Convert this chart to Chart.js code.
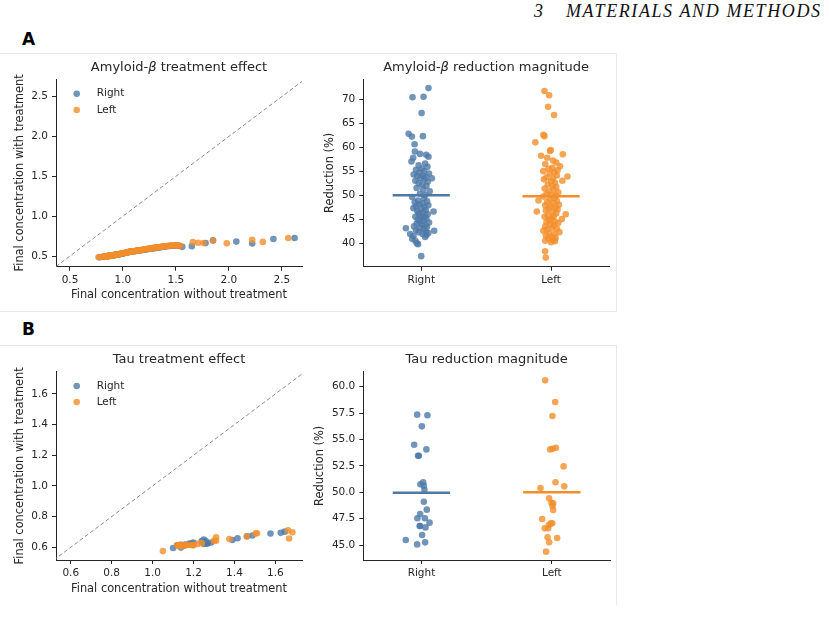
<!DOCTYPE html>
<html><head><meta charset="utf-8">
<script src="https://cdn.jsdelivr.net/npm/chart.js@4.4.0/dist/chart.umd.min.js"></script>
<style>
html,body{margin:0;padding:0;background:#fff;}
body{width:829px;height:626px;position:relative;overflow:hidden;font-family:"DejaVu Sans",sans-serif;color:#262626;}
canvas{position:absolute;}
.frame{position:absolute;border-style:solid;border-color:#e9e9e9;border-width:0;}
.plab{position:absolute;font:bold 17px "DejaVu Sans";color:#000;}
.hdr{position:absolute;top:1px;font:italic 18px "Liberation Serif",serif;color:#111;white-space:pre;}
</style></head><body>
<div class="hdr" style="left:534px;">3</div>
<div class="hdr" style="left:566px;letter-spacing:1.6px;">MATERIALS AND METHODS</div>
<div class="frame" style="left:-1px;top:53px;width:617px;height:257px;border-top-width:1px;border-right-width:1px;border-bottom-width:1px;"></div>
<div class="frame" style="left:-1px;top:345px;width:617px;height:259px;border-top-width:1px;border-right-width:1px;"></div>
<div class="plab" style="left:22px;top:29px;">A</div>
<div class="plab" style="left:22px;top:319px;">B</div>
<canvas id="aScatter" width="310" height="258" style="left:0;top:52px"></canvas>
<canvas id="aStrip" width="310" height="258" style="left:310px;top:52px"></canvas>
<canvas id="bScatter" width="310" height="260" style="left:0;top:345px"></canvas>
<canvas id="bStrip" width="310" height="260" style="left:310px;top:345px"></canvas>
<script>
// ---------- DATA ----------
const groups = ['Right', 'Left'];

// Amyloid-beta: reduction (%) per region, with strip jitter offsets
const amyRightRed = [72.3,70.5,70.4,67.1,62.8,62.3,62.2,60.6,59.1,58.6,
  58.4,58.0,57.8,57.0,56.6,56.2,55.9,55.5,55.3,55.0,
  54.7,54.5,54.3,54.1,54.0,53.8,53.6,53.5,53.3,53.0,
  52.8,52.5,52.2,51.9,51.5,51.2,50.8,50.3,50.0,49.6,
  49.3,48.9,48.7,48.5,48.3,48.1,47.9,47.7,47.5,47.3,
  47.1,46.9,46.7,46.6,46.4,46.2,46.0,45.8,45.6,45.5,
  45.3,45.1,44.9,44.7,44.5,44.3,44.1,43.9,43.7,43.5,
  43.4,43.2,43.1,42.9,42.7,42.6,42.5,42.3,42.1,41.9,
  41.9,41.7,41.5,41.3,40.9,40.5,40.0,39.8,37.3];
const amyRightJit = [0.056,0.018,-0.067,0.003,-0.097,0.013,-0.072,-0.051,-0.049,-0.010,
  0.038,0.056,-0.062,-0.075,0.030,-0.020,0.048,0.005,-0.040,0.022,
  -0.015,0.060,-0.058,0.012,-0.030,0.035,-0.005,0.082,0.025,-0.045,
  0.050,-0.020,0.008,0.040,-0.035,0.015,0.065,-0.010,0.030,-0.070,
  0.020,-0.025,0.045,-0.050,0.010,-0.015,0.055,-0.040,0.025,-0.060,
  0.000,0.035,-0.030,0.095,0.015,-0.020,0.050,-0.008,0.028,-0.045,
  0.010,0.040,-0.025,0.018,-0.012,0.060,-0.035,0.005,0.030,-0.055,
  0.045,-0.010,-0.118,0.020,-0.040,0.100,0.035,-0.020,0.055,-0.085,
  0.010,0.040,-0.060,0.030,-0.070,-0.045,-0.033,-0.025,0.000];
const amyLeftRed = [71.7,70.8,68.4,66.7,62.6,62.3,61.0,59.4,59.2,58.5,
  58.2,57.8,57.2,56.8,56.5,56.0,55.7,55.5,55.2,55.0,
  54.8,54.5,54.1,53.9,53.7,53.5,53.3,53.0,52.9,52.6,
  52.2,51.9,51.7,51.4,51.2,50.8,50.6,50.3,50.0,49.9,
  49.7,49.4,49.1,48.9,48.8,48.6,48.3,48.0,47.9,47.7,
  47.4,47.2,47.0,46.8,46.6,46.5,46.2,46.0,45.8,45.6,
  45.5,45.2,45.0,44.8,44.5,44.4,44.2,44.0,43.7,43.5,
  43.2,43.0,42.9,42.6,42.3,42.1,41.9,41.6,41.3,41.1,
  41.0,40.7,40.5,40.4,40.2,38.3,37.0];
const amyLeftJit = [-0.051,-0.015,-0.023,0.023,-0.059,-0.051,-0.121,-0.003,-0.008,0.090,
  -0.077,-0.030,0.015,0.040,-0.045,0.069,0.010,-0.020,0.050,-0.060,
  0.025,-0.010,0.045,0.126,-0.035,0.015,-0.055,0.087,0.000,0.030,
  -0.025,0.010,0.040,-0.050,0.020,-0.015,0.055,-0.035,0.005,0.035,
  -0.060,0.025,-0.010,-0.097,0.045,-0.030,0.015,0.060,-0.045,0.000,
  0.035,-0.020,0.050,-0.040,-0.110,0.010,0.040,0.113,-0.025,0.020,
  -0.050,0.005,0.082,-0.015,0.030,-0.035,0.055,-0.005,0.020,-0.045,
  0.010,0.045,-0.030,-0.060,0.064,-0.015,0.025,-0.040,0.005,0.035,
  -0.020,0.015,-0.045,0.030,0.000,-0.046,-0.041];
const amyMeans = [50.0, 49.8];

// Amyloid-beta: final concentration without / with treatment
const amyRightWithout = [2.62,2.42,2.22,2.07,1.78,1.85,1.65,1.56,1.53,1.52,
  1.51,1.50,1.49,1.46,1.44,1.42,1.41,1.39,1.38,1.36,
  1.34,1.33,1.32,1.31,1.305,1.30,1.29,1.285,1.275,1.26,
  1.25,1.235,1.22,1.205,1.19,1.175,1.16,1.14,1.13,1.115,
  1.10,1.09,1.08,1.075,1.07,1.06,1.055,1.05,1.04,1.035,
  1.01,1.00,0.995,0.99,0.985,0.98,0.97,0.965,0.96,0.955,
  0.95,0.945,0.94,0.93,0.925,0.92,0.915,0.91,0.905,0.90,
  0.895,0.89,0.888,0.884,0.88,0.877,0.875,0.87,0.865,0.86,
  0.858,0.855,0.85,0.845,0.838,0.83,0.82,0.815,0.78];
const amyRightWith = [0.726,0.714,0.657,0.681,0.662,0.697,0.624,0.615,0.626,0.629,
  0.628,0.630,0.629,0.628,0.625,0.622,0.622,0.619,0.617,0.612,
  0.607,0.605,0.603,0.601,0.600,0.601,0.599,0.598,0.595,0.592,
  0.590,0.587,0.583,0.580,0.577,0.573,0.571,0.567,0.565,0.562,
  0.558,0.557,0.554,0.554,0.553,0.550,0.550,0.549,0.546,0.545,
  0.534,0.531,0.530,0.529,0.528,0.527,0.524,0.523,0.522,0.520,
  0.520,0.519,0.518,0.514,0.513,0.512,0.511,0.511,0.510,0.509,
  0.507,0.506,0.505,0.505,0.504,0.503,0.503,0.502,0.501,0.500,
  0.498,0.498,0.497,0.496,0.495,0.494,0.492,0.491,0.486];
const amyLeftWithout = [2.56,2.32,2.22,1.98,1.85,1.76,1.71,1.66,1.54,1.52,
  1.51,1.50,1.48,1.46,1.45,1.43,1.41,1.40,1.385,1.37,
  1.36,1.345,1.33,1.32,1.31,1.30,1.285,1.27,1.265,1.25,
  1.235,1.22,1.21,1.195,1.185,1.17,1.16,1.145,1.135,1.13,
  1.12,1.11,1.10,1.09,1.085,1.08,1.07,1.06,1.055,1.05,
  1.04,1.03,1.02,1.01,1.00,0.995,0.985,0.975,0.97,0.96,
  0.955,0.948,0.94,0.935,0.925,0.922,0.918,0.91,0.905,0.90,
  0.89,0.886,0.884,0.877,0.87,0.865,0.86,0.853,0.845,0.842,
  0.84,0.835,0.83,0.828,0.825,0.79,0.77];
const amyLeftWith = [0.725,0.677,0.702,0.659,0.692,0.664,0.667,0.674,0.628,0.631,
  0.631,0.633,0.633,0.631,0.631,0.629,0.625,0.623,0.620,0.617,
  0.615,0.612,0.610,0.609,0.607,0.605,0.600,0.597,0.596,0.593,
  0.590,0.587,0.584,0.581,0.578,0.576,0.573,0.569,0.568,0.566,
  0.563,0.562,0.560,0.557,0.556,0.555,0.553,0.551,0.550,0.549,
  0.547,0.544,0.541,0.537,0.534,0.532,0.530,0.527,0.526,0.522,
  0.520,0.520,0.517,0.516,0.513,0.513,0.512,0.510,0.510,0.509,
  0.506,0.505,0.505,0.503,0.502,0.501,0.500,0.498,0.496,0.496,
  0.496,0.495,0.494,0.493,0.493,0.487,0.485];

// Tau
const tauRightRed = [57.35,57.3,56.24,54.5,54.06,53.46,53.46,50.94,50.75,50.62,50.24,49.1,
  48.35,47.94,47.53,47.53,47.12,46.8,46.8,46.67,45.95,45.47,45.25,45.06];
const tauRightJit = [-0.033,0.046,0.003,-0.056,0.038,-0.026,-0.020,0.013,-0.008,0.018,0.023,0.018,
  0.041,-0.010,-0.031,0.026,0.062,-0.013,-0.011,0.031,0.005,-0.120,0.028,-0.033];
const tauLeftRed = [60.6,58.55,57.22,54.22,54.12,54.06,52.45,50.94,50.56,50.4,49.42,49.01,48.95,
  48.7,48.32,47.46,47.05,47.05,46.9,46.58,46.58,45.73,45.66,45.25,44.37];
const tauLeftJit = [-0.051,0.026,0.005,0.031,0.005,-0.013,0.090,0.028,0.095,-0.087,-0.021,-0.003,0.010,
  0.005,0.010,-0.074,-0.008,0.003,-0.023,-0.054,-0.028,-0.033,0.041,-0.021,-0.044];
const tauMeans = [49.95, 50.0];
const tauRightWithout = [1.646,1.626,1.576,1.488,1.462,1.415,1.39,1.286,1.27,1.263,1.25,1.26,
  1.24,1.25,1.20,1.19,1.18,1.16,1.155,1.15,1.14,1.10,1.12,1.138];
const tauRightWith = [0.702,0.694,0.690,0.677,0.672,0.659,0.647,0.631,0.625,0.624,0.622,0.641,
  0.640,0.651,0.630,0.624,0.624,0.617,0.614,0.613,0.616,0.595,0.613,0.598];
const tauLeftWithout = [1.667,1.683,1.662,1.51,1.504,1.46,1.375,1.31,1.30,1.31,1.24,1.22,1.20,
  1.195,1.19,1.17,1.16,1.155,1.15,1.14,1.135,1.135,1.13,1.12,1.05];
const tauLeftWith = [0.657,0.698,0.711,0.691,0.690,0.671,0.654,0.643,0.643,0.665,0.627,0.622,0.613,
  0.613,0.615,0.615,0.614,0.611,0.611,0.609,0.606,0.616,0.614,0.613,0.575];

// Axis ranges and ticks
const amyScatterXRange = [0.368, 2.69], amyScatterYRange = [0.366, 2.72];
const amyScatterTicks = [0.5, 1.0, 1.5, 2.0, 2.5];
const amyIdentity = [0.368, 2.69];
const amyStripYRange = [35.1, 74.2];
const amyStripTicks = [40, 45, 50, 55, 60, 65, 70];
const tauScatterXRange = [0.528, 1.73], tauScatterYRange = [0.517, 1.745];
const tauScatterTicks = [0.6, 0.8, 1.0, 1.2, 1.4, 1.6];
const tauIdentity = [0.517, 1.745];
const tauStripYRange = [43.58, 61.42];
const tauStripTicks = [45.0, 47.5, 50.0, 52.5, 55.0, 57.5, 60.0];
const stripXRange = [-0.446, 1.446];

// ---------- STYLE ----------
const INK = '#262626';
const BLUE = '#4e79a7', ORANGE = '#f28e2b';
const BLUE_A = 'rgba(78,121,167,0.8)', ORANGE_A = 'rgba(242,142,43,0.8)';
const FONT = '"DejaVu Sans"';
const PR = 3.3;
const MEAN_HALF = 0.22;

Chart.defaults.font.family = FONT;
Chart.defaults.color = INK;

// legend drawn inside the axes (upper left), like the reference
const inLegend = {
  id: 'inLegend',
  afterDatasetsDraw(chart, args, opts) {
    if (!opts || !opts.show) return;
    const ctx = chart.ctx, ca = chart.chartArea;
    chart.data.datasets.filter(d => d.legendItem).forEach((d, i) => {
      const y = ca.top + opts.dy + i * opts.gap;
      ctx.save();
      ctx.fillStyle = d.backgroundColor;
      ctx.beginPath(); ctx.arc(ca.left + opts.dx, y, PR, 0, Math.PI * 2); ctx.fill();
      ctx.fillStyle = INK;
      ctx.font = '10.5px ' + FONT;
      ctx.textBaseline = 'middle';
      ctx.fillText(d.label, ca.left + opts.tx, y);
      ctx.restore();
    });
  }
};

// axes title centered over the plotting area; Greek beta set in italic
const axTitle = {
  id: 'axTitle',
  afterDraw(chart, args, opts) {
    if (!opts || !opts.text) return;
    const ctx = chart.ctx, ca = chart.chartArea;
    const parts = opts.text.split(/(β)/).filter(s => s.length);
    const fN = '13px ' + FONT, fI = 'italic 13px ' + FONT;
    ctx.save();
    let total = 0;
    const widths = parts.map(p => { ctx.font = (p === 'β') ? fI : fN; const w = ctx.measureText(p).width; total += w; return w; });
    let x = (ca.left + ca.right) / 2 - total / 2;
    const y = ca.top - opts.gap;
    ctx.fillStyle = INK; ctx.textBaseline = 'middle'; ctx.textAlign = 'left';
    parts.forEach((p, i) => { ctx.font = (p === 'β') ? fI : fN; ctx.fillText(p, x, y); x += widths[i]; });
    ctx.restore();
  }
};

function pts(xs, ys) { return xs.map((x, i) => ({ x: x, y: ys[i] })); }
function stripPts(idx, vals, jit) { return vals.map((v, i) => ({ x: idx + jit[i], y: v })); }

function axisCommon(extra) {
  return Object.assign({
    type: 'linear',
    grid: { drawOnChartArea: false, drawTicks: true, tickLength: 4, tickColor: INK, tickWidth: 1 },
    border: { display: true, color: INK, width: 1 },
  }, extra);
}

function makeChart(id, opt) {
  return new Chart(document.getElementById(id), {
    type: 'scatter',
    data: { datasets: opt.datasets },
    options: {
      responsive: false, animation: false, devicePixelRatio: 1,
      layout: { padding: { left: 0, right: opt.padRight, top: opt.padTop, bottom: 0 } },
      plugins: {
        legend: { display: false }, tooltip: { enabled: false }, title: { display: false },
        axTitle: { text: opt.title, gap: 11.7 },
        inLegend: opt.legend || { show: false }
      },
      scales: {
        x: axisCommon({
          min: opt.xRange[0], max: opt.xRange[1],
          afterFit: s => { s.height = opt.xHeight; },
          afterBuildTicks: s => { s.ticks = opt.xTicks.map(v => ({ value: v })); },
          ticks: { color: INK, font: { size: 10.5 }, padding: 3, maxRotation: 0, autoSkip: false, callback: opt.xFmt },
          title: { display: !!opt.xTitle, text: opt.xTitle || '', color: INK, font: { size: 11.4 }, padding: { top: 0, bottom: opt.xTitlePad } }
        }),
        y: axisCommon({
          min: opt.yRange[0], max: opt.yRange[1],
          afterFit: s => { s.width = opt.yWidth; },
          afterBuildTicks: s => { s.ticks = opt.yTicks.map(v => ({ value: v })); },
          ticks: { color: INK, font: { size: 10.5 }, padding: 4, autoSkip: false, callback: opt.yFmt },
          title: { display: true, text: opt.yTitle, color: INK, font: { size: 11.4 }, padding: { top: opt.yTitlePad, bottom: 0 } }
        })
      }
    },
    plugins: [inLegend, axTitle]
  });
}

function scatterDatasets(rx, ry, lx, ly, ident) {
  return [
    { label: 'Right', legendItem: true, data: pts(rx, ry), backgroundColor: BLUE_A, pointRadius: PR, pointBorderWidth: 0, order: 1 },
    { label: 'Left', legendItem: true, data: pts(lx, ly), backgroundColor: ORANGE_A, pointRadius: PR, pointBorderWidth: 0, order: 0 },
    { label: 'identity', data: pts(ident, ident), showLine: true, borderColor: '#8a8a8a', borderWidth: 1, borderDash: [4, 2.5], pointRadius: 0, order: 2 }
  ];
}

function stripDatasets(means, rVals, rJit, lVals, lJit) {
  return [
    { label: 'meanRight', data: [{ x: 0 - MEAN_HALF, y: means[0] }, { x: 0 + MEAN_HALF, y: means[0] }], showLine: true, borderColor: BLUE, borderWidth: 2.5, pointRadius: 0, order: -2 },
    { label: 'meanLeft', data: [{ x: 1 - MEAN_HALF, y: means[1] }, { x: 1 + MEAN_HALF, y: means[1] }], showLine: true, borderColor: ORANGE, borderWidth: 2.5, pointRadius: 0, order: -1 },
    { label: 'Right', data: stripPts(0, rVals, rJit), backgroundColor: BLUE_A, pointRadius: PR, pointBorderWidth: 0, order: 1 },
    { label: 'Left', data: stripPts(1, lVals, lJit), backgroundColor: ORANGE_A, pointRadius: PR, pointBorderWidth: 0, order: 0 }
  ];
}

const fmt1 = v => Number(v).toFixed(1);
const fmt0 = v => Number(v).toFixed(0);
const catFmt = (v) => groups[Math.round(v)];

makeChart('aScatter', {
  title: 'Amyloid-β treatment effect',
  datasets: scatterDatasets(amyRightWithout, amyRightWith, amyLeftWithout, amyLeftWith, amyIdentity),
  xRange: amyScatterXRange, yRange: amyScatterYRange, xTicks: amyScatterTicks, yTicks: amyScatterTicks,
  xFmt: fmt1, yFmt: fmt1, xTitle: 'Final concentration without treatment', yTitle: 'Final concentration with treatment',
  padRight: 8, padTop: 27, yWidth: 56, xHeight: 43.3, xTitlePad: 8.2, yTitlePad: 13,
  legend: { show: true, dx: 20.7, dy: 14.7, gap: 16.3, tx: 40.7 }
});
makeChart('aStrip', {
  title: 'Amyloid-β reduction magnitude',
  datasets: stripDatasets(amyMeans, amyRightRed, amyRightJit, amyLeftRed, amyLeftJit),
  xRange: stripXRange, yRange: amyStripYRange, xTicks: [0, 1], yTicks: amyStripTicks,
  xFmt: catFmt, yFmt: fmt0, xTitle: '', yTitle: 'Reduction (%)',
  padRight: 11, padTop: 27, yWidth: 53.3, xHeight: 43.3, xTitlePad: 0, yTitlePad: 13
});
makeChart('bScatter', {
  title: 'Tau treatment effect',
  datasets: scatterDatasets(tauRightWithout, tauRightWith, tauLeftWithout, tauLeftWith, tauIdentity),
  xRange: tauScatterXRange, yRange: tauScatterYRange, xTicks: tauScatterTicks, yTicks: tauScatterTicks,
  xFmt: fmt1, yFmt: fmt1, xTitle: 'Final concentration without treatment', yTitle: 'Final concentration with treatment',
  padRight: 8, padTop: 26.7, yWidth: 56, xHeight: 45, xTitlePad: 8.9, yTitlePad: 13,
  legend: { show: true, dx: 20.7, dy: 14.3, gap: 16, tx: 40.7 }
});
makeChart('bStrip', {
  title: 'Tau reduction magnitude',
  datasets: stripDatasets(tauMeans, tauRightRed, tauRightJit, tauLeftRed, tauLeftJit),
  xRange: stripXRange, yRange: tauStripYRange, xTicks: [0, 1], yTicks: tauStripTicks,
  xFmt: catFmt, yFmt: fmt1, xTitle: '', yTitle: 'Reduction (%)',
  padRight: 10, padTop: 26.7, yWidth: 53.3, xHeight: 45, xTitlePad: 0, yTitlePad: 3.2
});
</script>
</body></html>
